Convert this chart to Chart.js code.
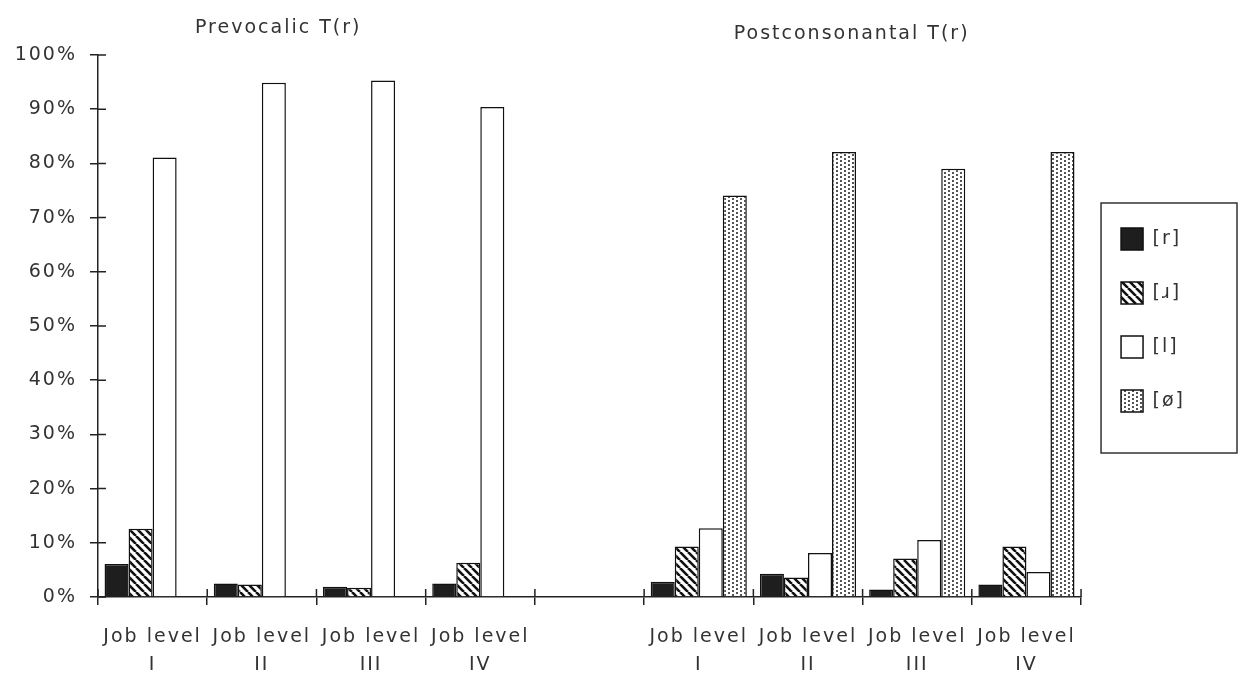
<!DOCTYPE html>
<html><head><meta charset="utf-8">
<script src="https://cdn.jsdelivr.net/npm/chart.js@4/dist/chart.umd.min.js"></script>
<style>html,body{margin:0;padding:0;background:#fff;}#wrap{width:1240px;height:681px;}</style>
</head><body><div id="wrap"><canvas id="c" width="1240" height="681"></canvas></div>
<script>
// ---- data ----
const categories = [['Job level','I'],['Job level','II'],['Job level','III'],['Job level','IV'],'',
                    ['Job level','I'],['Job level','II'],['Job level','III'],['Job level','IV']];
const seriesNames = ['[r]','[ɹ]','[l]','[ø]'];
const valuesR     = [6.1, 2.5, 1.9, 2.5, null, 2.8, 4.3, 1.4, 2.3];
const valuesRetro = [12.6, 2.3, 1.7, 6.3, null, 9.3, 3.6, 7.1, 9.3];
const valuesL     = [81.1, 94.9, 95.3, 90.4, null, 12.7, 8.1, 10.5, 4.6];
const valuesZero  = [0, 0, 0, 0, null, 74.1, 82.1, 79.0, 82.1];
const yTickLabels = ['0%','10%','20%','30%','40%','50%','60%','70%','80%','90%','100%'];
const panelTitles = ['Prevocalic T(r)','Postconsonantal T(r)'];

// ---- styling ----
const FONT = '"DejaVu Sans", sans-serif';
const INK = '#222';
const TXT = '#333';
const canvas = document.getElementById('c');
const ctx = canvas.getContext('2d');

function makeTile(w, h, draw) {
  const c = document.createElement('canvas'); c.width = w; c.height = h;
  const g = c.getContext('2d'); draw(g); return ctx.createPattern(c, 'repeat');
}
const hatchPattern = makeTile(8, 8, g => {
  g.fillStyle = '#fff'; g.fillRect(0, 0, 8, 8);
  g.strokeStyle = '#111'; g.lineWidth = 2.6; g.beginPath();
  for (const o of [-8, 0, 8]) { g.moveTo(o, 0); g.lineTo(o + 8, 8); }
  g.stroke();
});
const dotPattern = makeTile(8, 4, g => {
  g.fillStyle = '#fff'; g.fillRect(0, 0, 8, 4);
  g.fillStyle = '#555'; g.fillRect(0, 0, 2, 2); g.fillRect(4, 2, 2, 2);
});
const fills = ['#1e1e1e', hatchPattern, '#ffffff', dotPattern];
const seriesValues = [valuesR, valuesRetro, valuesL, valuesZero];

const spacingPlugin = {
  id: 'spacing',
  beforeLayout(chart) { chart.ctx.letterSpacing = '2px'; },
  beforeDraw(chart) { chart.ctx.letterSpacing = '2px'; }
};
const legendShift = {
  id: 'legendShift',
  afterLayout(chart) {
    const l = chart.legend;
    l.left += 8; l.right += 8; l.top -= 6; l.bottom -= 6;
  }
};
const decor = {
  id: 'decor',
  afterDraw(chart) {
    const c = chart.ctx, a = chart.chartArea, xs = chart.scales.x, ys = chart.scales.y;
    c.save();
    c.strokeStyle = INK; c.lineWidth = 1.5;
    c.beginPath();
    ys.ticks.forEach((t, i) => { const py = ys.getPixelForTick(i); c.moveTo(a.left, py); c.lineTo(a.left + 8, py); });
    const n = categories.length;
    for (let i = 0; i <= n; i++) { const px = xs.left + i * xs.width / n; c.moveTo(px, a.bottom); c.lineTo(px, a.bottom - 8); }
    c.stroke();
    // legend frame
    const cy = (a.top + a.bottom) / 2;
    c.lineWidth = 1.5; c.strokeStyle = '#333';
    c.strokeRect(a.right + 20, cy - 123, chart.width - 3 - (a.right + 20), 250);
    // panel titles
    c.letterSpacing = '2px';
    c.fillStyle = TXT; c.font = '19px ' + FONT; c.textAlign = 'center'; c.textBaseline = 'middle';
    c.fillText(panelTitles[0], xs.getPixelForValue(1.15), 28);
    c.fillText(panelTitles[1], xs.getPixelForValue(6.4), 34);
    c.restore();
  }
};

new Chart(ctx, {
  type: 'bar',
  data: {
    labels: categories,
    datasets: seriesNames.map((name, i) => ({
      label: name,
      data: seriesValues[i],
      backgroundColor: fills[i],
      borderColor: '#111',
      borderWidth: 1.5,
      categoryPercentage: 0.88,
      barPercentage: 1.0
    }))
  },
  options: {
    responsive: false,
    animation: false,
    devicePixelRatio: 1,
    layout: { padding: { top: 55, left: 15, right: 53, bottom: 2 } },
    plugins: {
      title: { display: false },
      tooltip: { enabled: false },
      legend: {
        display: true,
        position: 'right',
        fullSize: false,
        labels: {
          boxWidth: 22, boxHeight: 22, padding: 32,
          color: TXT, font: { family: FONT, size: 19 }
        }
      }
    },
    scales: {
      x: {
        offset: true,
        afterFit: s => { s.height = 82; },
        grid: { offset: true, drawOnChartArea: false, drawTicks: true, tickLength: 8, color: INK, lineWidth: 1.5 },
        border: { display: true, color: INK, width: 1.5 },
        ticks: { color: TXT, padding: 18, maxRotation: 0, autoSkip: false,
                 font: { family: FONT, size: 19, lineHeight: 1.47 } }
      },
      y: {
        min: 0, max: 100,
        afterFit: s => { s.width = 83; },
        grid: { drawOnChartArea: false, drawTicks: true, tickLength: 8, color: INK, lineWidth: 1.5 },
        border: { display: true, color: INK, width: 1.5 },
        ticks: { stepSize: 10, color: TXT, padding: 13,
                 font: { family: FONT, size: 19 },
                 callback: (v, i) => yTickLabels[i] }
      }
    }
  },
  plugins: [spacingPlugin, legendShift, decor]
});
</script></body></html>
